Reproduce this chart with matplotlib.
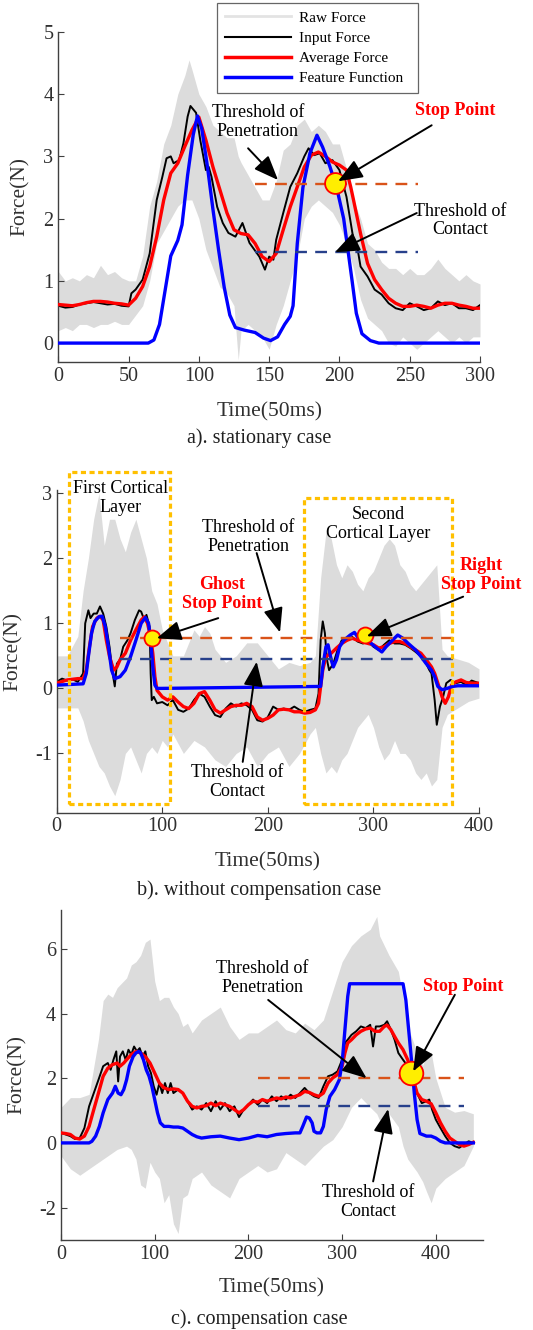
import matplotlib
matplotlib.use("Agg")
import matplotlib.pyplot as plt
from matplotlib.lines import Line2D
from matplotlib.patches import Rectangle

plt.rcParams['font.family'] = ['Liberation Serif', 'DejaVu Serif']
plt.rcParams['axes.unicode_minus'] = False

# ---------------- a). stationary case ----------------
a_raw_t = [0, 5, 10, 15, 20, 25, 30, 35, 40, 45, 50, 55, 60, 65, 70, 75, 80, 85, 90, 93,
           95, 100, 105, 110, 115, 120, 125, 128, 130, 135, 140, 145, 150, 155, 160, 165, 170, 175, 180, 185,
           190, 195, 200, 205, 210, 215, 220, 225, 230, 235, 240, 245, 250, 255, 260, 265, 270, 275, 280, 285,
           290, 295, 300]
a_raw_hi = [1.15, 1.0, 1.05, 1.0, 1.1, 1.05, 1.25, 1.1, 1.15, 1.05, 1.0, 1.0, 1.4, 2.2, 2.6, 3.2, 3.5, 4.0, 4.3, 4.55,
            4.4, 4.0, 3.8, 3.5, 3.4, 3.3, 3.3, 3.0, 2.9, 2.7, 2.5, 2.3, 2.3, 2.6, 3.1, 3.2, 3.5, 3.6, 3.4, 3.5,
            3.4, 3.2, 3.2, 2.8, 2.3, 2.0, 1.6, 1.5, 1.3, 1.2, 1.2, 1.1, 1.2, 1.1, 1.1, 1.2, 1.35, 1.2, 1.1, 1.0,
            1.1, 1.0, 0.95]
a_raw_lo = [0.2, 0.25, 0.2, 0.3, 0.3, 0.25, 0.3, 0.3, 0.35, 0.3, 0.3, 0.45, 0.6, 1.0, 1.6, 1.8, 2.0, 2.2, 2.3, 2.3,
            2.3, 2.0, 1.5, 1.2, 0.9, 0.8, 0.6, -0.27, 0.2, 0.3, 0.2, 0.1, -0.1, 0.3, 0.6, 1.0, 1.4, 2.0, 2.2, 2.3,
            2.2, 2.1, 1.9, 1.6, 1.2, 0.7, 0.4, 0.3, 0.2, 0.0, -0.05, 0.1, 0.0, -0.1, 0.0, 0.1, 0.2, 0.1, 0.0, 0.1,
            0.0, 0.1, 0.1]

a_in_t = [0, 5, 10, 15, 20, 25, 30, 35, 40, 45, 50, 52, 55, 60, 65, 70, 74, 77, 80, 82,
          86, 89, 92, 94, 98, 101, 105, 107, 109, 113, 117, 121, 126, 131, 136, 143, 147, 150, 153, 155,
          160, 165, 170, 175, 178, 182, 186, 190, 195, 200, 205, 210, 213, 215, 220, 225, 230, 235, 240, 245,
          250, 255, 260, 265, 270, 275, 280, 285, 290, 295, 300]
a_in = [0.6, 0.57, 0.58, 0.62, 0.64, 0.66, 0.64, 0.62, 0.63, 0.6, 0.59, 0.8, 0.86, 1.02, 1.44, 2.3, 2.67, 2.97, 3.0, 2.89,
        2.94, 3.21, 3.64, 3.81, 3.7, 3.26, 2.78, 2.83, 2.67, 2.19, 1.93, 1.77, 1.71, 1.93, 1.61, 1.39, 1.18, 1.39, 1.34, 1.66,
        2.09, 2.51, 2.73, 3.0, 3.13, 3.02, 3.05, 2.89, 2.94, 2.78, 2.35, 1.66, 1.5, 1.23, 1.07, 0.86, 0.78, 0.64, 0.56, 0.53,
        0.64, 0.59, 0.53, 0.56, 0.67, 0.61, 0.64, 0.56, 0.56, 0.53, 0.61]

a_avg_t = [0, 5, 10, 15, 20, 25, 30, 35, 40, 45, 50, 55, 60, 65, 70, 75, 80, 85, 90, 95,
           100, 105, 110, 115, 120, 125, 130, 135, 140, 145, 150, 155, 160, 165, 170, 175, 180, 185, 190, 195,
           200, 205, 208, 210, 215, 220, 225, 230, 235, 240, 245, 250, 255, 260, 265, 270, 275, 280, 285, 290,
           295, 300]
a_avg = [0.62, 0.61, 0.6, 0.62, 0.65, 0.67, 0.67, 0.66, 0.64, 0.63, 0.61, 0.72, 0.91, 1.23, 1.71, 2.3, 2.73, 2.89, 3.16, 3.42,
         3.63, 3.26, 2.83, 2.46, 2.09, 1.82, 1.76, 1.74, 1.6, 1.39, 1.31, 1.44, 1.82, 2.19, 2.51, 2.83, 3.02, 3.07, 3.0, 2.91,
         2.86, 2.78, 2.51, 2.3, 1.76, 1.28, 1.02, 0.86, 0.72, 0.64, 0.59, 0.59, 0.61, 0.59, 0.56, 0.61, 0.64, 0.64, 0.61, 0.59,
         0.56, 0.56]

a_feat_t = [0, 64, 68, 72, 76, 80, 85, 88, 92, 96, 99, 102, 106, 110, 114, 118, 122, 126, 132, 140,
            146, 151, 156, 161, 165, 167, 170, 174, 179, 184, 188, 193, 198, 203, 206, 209, 212, 216, 222, 228, 300]
a_feat = [0, 0, 0.05, 0.3, 0.85, 1.4, 1.65, 1.9, 2.7, 3.35, 3.65, 3.45, 2.85, 2.15, 1.5, 0.9, 0.45, 0.25, 0.21, 0.17,
          0.08, 0.04, 0.1, 0.3, 0.43, 0.6, 1.6, 2.5, 3.05, 3.34, 3.15, 2.85, 2.5, 2.0, 1.5, 1.0, 0.48, 0.15, 0.04, 0, 0]

a_thr_span = [140, 256]
a_thr_pen = 2.56
a_thr_con = 1.46
a_stop = (197, 2.58)

# ---------------- b). without compensation case ----------------
b_raw_t = [0, 10, 20, 25, 30, 35, 40, 45, 50, 55, 60, 65, 70, 75, 80, 85, 90, 95, 100, 105,
           110, 120, 130, 135, 140, 145, 150, 160, 170, 180, 190, 200, 210, 220, 230, 240, 245, 250, 255, 260,
           265, 270, 275, 280, 285, 290, 295, 300, 305, 310, 315, 320, 325, 330, 335, 340, 345, 350, 355, 360,
           365, 370, 380, 390, 400]
b_raw_hi = [0.5, 0.5, 0.8, 1.5, 2.0, 2.6, 3.0, 2.2, 2.6, 2.6, 2.3, 2.1, 2.4, 2.6, 2.3, 2.0, 1.5, 1.3, 0.9, 0.7,
            0.5, 0.5, 0.9, 0.8, 0.95, 0.85, 0.6, 0.4, 0.5, 0.7, 0.7, 0.5, 0.3, 0.4, 0.35, 0.4, 0.5, 1.7, 2.4, 2.3,
            1.9, 1.7, 1.9, 1.8, 1.6, 1.5, 1.7, 1.8, 2.0, 2.2, 2.3, 2.2, 1.9, 1.8, 1.6, 1.5, 1.6, 1.7, 1.8, 1.9,
            0.6, 0.5, 0.45, 0.4, 0.3]
b_raw_lo = [-0.3, -0.3, -0.3, -0.5, -0.8, -1.0, -1.2, -1.3, -1.5, -1.65, -1.4, -1.0, -0.9, -1.1, -1.3, -1.0, -0.9, -1.0, -0.8, -0.9,
            -0.7, -1.0, -0.8, -0.85, -0.9, -1.0, -1.1, -1.2, -1.0, -0.9, -1.2, -1.0, -0.9, -1.2, -1.0, -0.7, -0.6, -1.0, -1.3, -1.2,
            -1.3, -1.1, -1.0, -0.8, -0.6, -0.5, -0.4, -0.6, -0.9, -1.1, -1.0, -0.8, -1.0, -1.0, -1.1, -1.3, -1.4, -1.3, -1.5, -1.4,
            -0.6, -0.4, -0.3, -0.2, -0.15]

b_in_t = [0, 5, 10, 15, 20, 22, 25, 27, 30, 32, 35, 38, 41, 44, 47, 50, 53, 55, 57, 60,
          63, 67, 70, 74, 78, 80, 83, 85, 88, 89, 90, 92, 95, 100, 105, 110, 115, 120, 125, 130,
          135, 140, 145, 150, 155, 160, 165, 170, 175, 180, 185, 190, 195, 200, 205, 210, 215, 220, 225, 230,
          235, 240, 245, 248, 250, 252, 254, 256, 258, 262, 266, 270, 275, 280, 285, 290, 295, 300, 305, 310,
          315, 320, 325, 330, 335, 340, 345, 350, 353, 355, 358, 360, 363, 366, 369, 373, 378, 383, 388, 393, 400]
b_in = [0.1, 0.15, 0.12, 0.14, 0.1, 0.15, 0.23, 1.0, 1.2, 1.08, 1.15, 1.15, 1.26, 1.15, 0.95, 0.64, 0.23, 0.03, 0.38, 0.44,
        0.64, 0.74, 0.85, 1.05, 1.2, 1.18, 1.05, 1.13, 0.95, 0.23, -0.18, -0.13, -0.23, -0.21, -0.26, -0.18, -0.33, -0.36, -0.31, -0.18,
        -0.08, -0.13, -0.28, -0.41, -0.44, -0.31, -0.23, -0.28, -0.23, -0.26, -0.33, -0.49, -0.51, -0.44, -0.28, -0.33, -0.31, -0.33, -0.28, -0.33,
        -0.36, -0.33, -0.31, -0.08, 0.74, 1.03, 0.85, 0.44, 0.28, 0.38, 0.59, 0.74, 0.74, 0.79, 0.72, 0.69, 0.72, 0.64, 0.59, 0.67,
        0.74, 0.69, 0.69, 0.67, 0.62, 0.56, 0.49, 0.38, 0.28, 0.23, -0.18, -0.56, -0.28, -0.13, 0.08, 0.13, 0.08, 0.1, 0.05, 0.12, 0.08]

b_avg_t = [0, 10, 20, 25, 28, 31, 34, 38, 41, 44, 47, 50, 54, 57, 60, 65, 70, 75, 80, 83,
           86, 89, 91, 93, 95, 100, 105, 110, 115, 120, 125, 130, 135, 140, 145, 150, 155, 160, 165, 170,
           175, 180, 185, 190, 195, 200, 205, 210, 215, 220, 225, 230, 235, 240, 245, 248, 250, 252, 255, 260,
           265, 270, 275, 280, 285, 290, 295, 300, 305, 310, 315, 320, 325, 330, 335, 340, 345, 350, 355, 358,
           362, 365, 368, 371, 374, 378, 383, 388, 393, 400]
b_avg = [0.08, 0.13, 0.15, 0.15, 0.28, 0.64, 0.95, 1.08, 1.11, 1.05, 0.74, 0.49, 0.28, 0.33, 0.44, 0.54, 0.74, 0.9, 1.05, 1.10,
         1.0, 0.79, 0.54, 0.18, -0.03, -0.13, -0.18, -0.13, -0.21, -0.28, -0.31, -0.23, -0.08, -0.05, -0.18, -0.33, -0.38, -0.33, -0.28, -0.26,
         -0.26, -0.23, -0.28, -0.44, -0.49, -0.46, -0.41, -0.33, -0.32, -0.33, -0.36, -0.36, -0.38, -0.37, -0.33, -0.23, 0.03, 0.28, 0.49, 0.54,
         0.62, 0.69, 0.74, 0.77, 0.74, 0.72, 0.69, 0.67, 0.62, 0.64, 0.69, 0.72, 0.72, 0.69, 0.64, 0.59, 0.54, 0.44, 0.33, 0.23,
         0.03, -0.13, -0.23, -0.13, 0.05, 0.10, 0.13, 0.09, 0.08, 0.08]

b_feat_t = [0, 25, 28, 30, 33, 36, 40, 43, 46, 49, 52, 55, 60, 65, 70, 75, 80, 84, 87, 89,
            91, 93, 95, 100, 250, 252, 255, 257, 260, 262, 265, 268, 272, 278, 282, 285, 288, 292, 298, 303,
            308, 312, 318, 323, 328, 333, 340, 345, 350, 355, 358, 361, 365, 370, 375, 380, 400]
b_feat = [0.05, 0.07, 0.23, 0.49, 0.85, 1.03, 1.10, 1.11, 0.95, 0.64, 0.28, 0.15, 0.18, 0.28, 0.49, 0.74, 1.0, 1.09, 1.0, 0.74,
          0.33, 0.05, 0.0, 0.0, 0.03, 0.33, 0.64, 0.67, 0.44, 0.33, 0.44, 0.64, 0.74, 0.82, 0.86, 0.79, 0.85, 0.79, 0.69, 0.62,
          0.56, 0.64, 0.74, 0.82, 0.77, 0.69, 0.59, 0.49, 0.38, 0.28, 0.18, 0.03, -0.02, 0.0, 0.03, 0.04, 0.04]

b_thr_span = [60, 380]
b_thr_pen = 0.78
b_thr_con = 0.45
b_ghost = (90, 0.77)
b_right = (292, 0.82)
b_layer1 = (11.6, 107.3, -1.78, 3.32)
b_layer2 = (234.5, 374.0, -1.78, 2.92)

# ---------------- c). compensation case ----------------
c_raw_t = [0, 10, 20, 30, 40, 45, 50, 55, 60, 70, 75, 80, 85, 90, 95, 100, 105, 110, 115, 120,
           125, 130, 135, 140, 150, 160, 170, 180, 190, 200, 210, 220, 230, 240, 250, 260, 270, 280, 290, 300,
           310, 320, 330, 337, 340, 350, 360, 365, 370, 380, 386, 390, 395, 400, 410, 420, 430, 440]
c_raw_hi = [1.1, 1.4, 1.4, 1.5, 3.2, 4.4, 4.6, 4.5, 4.8, 5.1, 5.5, 5.6, 5.8, 6.2, 6.3, 5.0, 4.4, 4.5, 4.5, 4.2,
            4.0, 3.6, 3.7, 3.4, 3.8, 4.0, 4.2, 3.6, 3.2, 3.4, 3.4, 3.6, 3.8, 3.5, 3.4, 3.7, 3.5, 3.8, 4.7, 5.6,
            6.1, 6.4, 6.6, 7.0, 6.4, 5.8, 5.3, 4.5, 3.6, 2.8, 2.4, 2.7, 2.8, 2.0, 1.1, 0.95, 1.0, 0.9]
c_raw_lo = [-0.4, -0.8, -1.0, -0.8, -0.6, -0.5, -0.4, -0.3, -0.2, -0.1, -0.2, -0.5, -1.3, -1.4, -0.6, -0.9, -1.1, -1.85, -1.6, -2.5,
            -2.8, -1.7, -1.6, -1.1, -0.9, -1.3, -1.5, -1.7, -1.1, -0.9, -0.7, -0.9, -0.8, -0.3, -0.5, -0.7, -0.4, -0.1, 0.1, 0.5,
            1.1, 1.4, 1.1, 0.9, 0.7, 0.9, 0.5, -0.1, -0.5, -0.9, -1.2, -1.5, -1.85, -1.4, -1.1, -0.9, -0.7, -0.1]

c_in_t = [0, 5, 10, 15, 20, 25, 30, 35, 40, 45, 50, 53, 56, 59, 61, 63, 66, 69, 72, 75,
          78, 81, 84, 87, 90, 93, 96, 99, 102, 105, 108, 111, 114, 117, 120, 125, 130, 135, 140, 145,
          150, 155, 160, 165, 170, 175, 180, 185, 190, 195, 200, 205, 210, 215, 220, 225, 230, 235, 240, 245,
          250, 255, 260, 265, 270, 275, 280, 285, 290, 295, 300, 303, 306, 310, 315, 320, 325, 330, 333, 336,
          340, 345, 348, 352, 356, 360, 365, 370, 375, 380, 385, 390, 393, 396, 400, 405, 410, 415, 420, 425,
          430, 435, 440]
c_in = [0.31, 0.26, 0.21, 0.12, 0.15, 0.46, 1.13, 1.54, 1.95, 2.37, 2.47, 2.26, 2.57, 2.83, 1.9, 2.67, 2.83, 2.57, 2.88, 2.73,
        2.98, 2.83, 2.93, 2.67, 2.83, 2.37, 2.16, 1.75, 1.49, 1.85, 1.54, 1.85, 1.54, 1.85, 1.54, 1.65, 1.54, 1.29, 1.03, 1.13,
        1.03, 1.23, 0.98, 1.29, 1.03, 1.23, 0.98, 1.13, 0.8, 1.03, 1.18, 1.34, 1.18, 1.34, 1.23, 1.44, 1.29, 1.44, 1.34, 1.49,
        1.39, 1.54, 1.7, 1.54, 1.44, 1.39, 1.75, 2.06, 2.11, 2.21, 2.57, 3.09, 3.19, 3.34, 3.45, 3.6, 3.55, 3.65, 2.98, 3.6,
        3.6, 3.65, 3.76, 3.5, 3.19, 2.78, 2.57, 2.37, 2.06, 1.54, 1.23, 1.29, 1.34, 1.03, 0.72, 0.46, 0.21, 0.0, -0.1, -0.15,
        -0.05, 0.05, 0.0]

c_avg_t = [0, 5, 10, 15, 20, 25, 30, 35, 40, 45, 50, 55, 60, 63, 67, 70, 75, 80, 85, 90,
           95, 100, 105, 110, 115, 120, 125, 130, 135, 140, 145, 150, 155, 160, 165, 170, 175, 180, 185, 190,
           195, 200, 205, 210, 215, 220, 225, 230, 235, 240, 245, 250, 255, 260, 265, 270, 275, 280, 285, 290,
           295, 300, 303, 306, 310, 315, 320, 325, 330, 335, 340, 345, 348, 352, 356, 360, 365, 370, 375, 378,
           380, 385, 390, 395, 400, 405, 410, 415, 420, 425, 430, 435, 440]
c_avg = [0.31, 0.29, 0.26, 0.15, 0.12, 0.21, 0.51, 1.03, 1.54, 2.06, 2.31, 2.42, 2.47, 2.37, 2.47, 2.57, 2.73, 2.83, 2.78, 2.67,
         2.47, 2.16, 1.85, 1.7, 1.65, 1.67, 1.65, 1.54, 1.29, 1.13, 1.08, 1.13, 1.15, 1.23, 1.15, 1.23, 1.18, 1.13, 1.03, 0.93,
         1.03, 1.18, 1.29, 1.26, 1.34, 1.29, 1.34, 1.39, 1.36, 1.42, 1.39, 1.44, 1.49, 1.59, 1.56, 1.49, 1.44, 1.54, 1.85, 2.01,
         2.11, 2.37, 2.78, 3.09, 3.19, 3.34, 3.45, 3.52, 3.55, 3.45, 3.45, 3.6, 3.64, 3.5, 3.29, 3.09, 2.88, 2.57, 2.11, 1.75,
         1.54, 1.34, 1.29, 1.21, 0.93, 0.62, 0.36, 0.15, 0.05, -0.05, -0.1, -0.05, 0.02]

c_feat_t = [0, 30, 33, 37, 41, 45, 50, 55, 58, 61, 64, 67, 70, 73, 77, 80, 83, 85, 88, 91,
            94, 97, 100, 103, 106, 110, 115, 120, 125, 130, 135, 140, 145, 150, 160, 170, 180, 190, 200, 210,
            220, 230, 240, 250, 255, 258, 262, 265, 268, 270, 273, 277, 280, 283, 287, 292, 297, 300, 303, 306,
            308, 365, 368, 371, 374, 377, 380, 383, 390, 395, 400, 405, 410, 440]
c_feat = [0, 0, 0.05, 0.21, 0.51, 0.93, 1.34, 1.54, 1.75, 1.54, 1.49, 1.65, 1.95, 2.37, 2.67, 2.78, 2.83, 2.78, 2.57, 2.26,
          2.06, 1.75, 1.34, 0.93, 0.62, 0.51, 0.51, 0.49, 0.49, 0.46, 0.36, 0.26, 0.19, 0.15, 0.19, 0.21, 0.15, 0.1, 0.15, 0.23,
          0.19, 0.26, 0.29, 0.31, 0.31, 0.51, 0.8, 0.77, 0.62, 0.36, 0.31, 0.31, 0.51, 1.03, 1.44, 1.65, 1.95, 2.47, 3.5, 4.53,
          4.92, 4.92, 4.42, 3.5, 2.57, 1.54, 0.72, 0.29, 0.21, 0.21, 0.15, 0.05, 0, 0]

c_thr_span = [210, 430]
c_thr_pen = 2.0
c_thr_con = 1.15
c_stop = (373, 2.16)

GREY = '#dcdcdc'
RED = '#ff0000'
BLUE = '#0000ff'
ORANGE = '#d95319'
NAVY = '#27408b'
GOLD = '#ffc000'
TXT = 13


def base(ax, xlim, ylim, xticks, yticks, ylab_x, xlab_y):
    ax.set_xlim(xlim)
    ax.set_ylim(ylim)
    ax.set_xticks(xticks)
    ax.set_yticks(yticks)
    for s in ['top', 'right']:
        ax.spines[s].set_visible(False)
    for s in ['left', 'bottom']:
        ax.spines[s].set_color('#404040')
        ax.spines[s].set_linewidth(1.0)
    ax.tick_params(direction='in', length=4, width=0.8, colors='#404040',
                   labelcolor='#303030', labelsize=14.5)
    ax.set_ylabel('Force(N)', fontsize=15.5, color='#303030', va='center')
    ax.yaxis.set_label_coords(ylab_x, 0.5)
    ax.set_xlabel('Time(50ms)', fontsize=15.5, color='#303030', va='center')
    ax.xaxis.set_label_coords(0.5, xlab_y)


def curves(ax, rt, rlo, rhi, it, iv, at, av, ft, fv, span, pen, con):
    ax.fill_between(rt, rlo, rhi, color=GREY, lw=0, zorder=1)
    ax.plot(it, iv, color='k', lw=1.4, zorder=2)
    ax.plot(at, av, color=RED, lw=2.4, zorder=3)
    ax.plot(ft, fv, color=BLUE, lw=2.4, zorder=4)
    ax.plot(span, [pen, pen], color=ORANGE, lw=1.7, ls=(0, (5, 3.5)), zorder=5)
    ax.plot(span, [con, con], color=NAVY, lw=1.7, ls=(0, (5, 3.5)), zorder=5)


def dot(ax, p, size):
    ax.plot([p[0]], [p[1]], 'o', ms=size, mfc='#ffee00', mec=RED, mew=1.3, zorder=8, clip_on=False)


def arrow(ax, tail, tip):
    ax.annotate('', xy=tip, xytext=tail, annotation_clip=False, zorder=9,
                arrowprops=dict(arrowstyle='-|>,head_length=0.75,head_width=0.3', mutation_scale=20,
                                lw=1.4, color='k', shrinkA=0, shrinkB=0))


def label(ax, x, y, s, red=False):
    ax.text(x, y, s, ha='center', va='center', fontsize=TXT, clip_on=False, zorder=10,
            color=RED if red else 'k', fontweight='bold' if red else 'normal', linespacing=1.15)


fig = plt.figure(figsize=(5.33, 13.3), dpi=100)

# panel a
ax = fig.add_axes([0.1094, 0.728, 0.7912, 0.248])
base(ax, (0, 300), (-0.3, 5), range(0, 301, 50), range(0, 6), -0.089, -0.1515)
curves(ax, a_raw_t, a_raw_lo, a_raw_hi, a_in_t, a_in, a_avg_t, a_avg, a_feat_t, a_feat,
       a_thr_span, a_thr_pen, a_thr_con)
dot(ax, a_stop, 15)
label(ax, 142, 3.55, 'Threshold of\nPenetration')
label(ax, 285.7, 1.97, 'Threshold of\nContact')
label(ax, 282, 3.74, 'Stop Point', red=True)
arrow(ax, (135, 3.13), (156.3, 2.62))
arrow(ax, (265.6, 3.5), (199, 2.6))
arrow(ax, (255, 2.09), (196.8, 1.46))

handles = [Line2D([], [], color='#e3e3e3', lw=2),
           Line2D([], [], color='k', lw=1.5),
           Line2D([], [], color=RED, lw=2.5),
           Line2D([], [], color=BLUE, lw=2.5)]
leg = fig.legend(handles, ['Raw Force', 'Input Force', 'Average Force', 'Feature Function'],
                 loc='upper left', bbox_to_anchor=(0.4065, 0.931, 0.3785, 0.067), mode='expand',
                 fontsize=11, frameon=True, fancybox=False, edgecolor='#404040',
                 handlelength=4.3, handletextpad=0.55, labelspacing=0.42, borderpad=0.55,
                 borderaxespad=0)
leg.get_frame().set_linewidth(0.9)

# panel b
ax = fig.add_axes([0.1064, 0.389, 0.7923, 0.2426])
base(ax, (0, 400), (-1.91, 3.05), range(0, 401, 100), range(-1, 4), -0.103, -0.152)
curves(ax, b_raw_t, b_raw_lo, b_raw_hi, b_in_t, b_in, b_avg_t, b_avg, b_feat_t, b_feat,
       b_thr_span, b_thr_pen, b_thr_con)
for x0, x1, y0, y1 in [b_layer1, b_layer2]:
    ax.add_patch(Rectangle((x0, y0), x1 - x0, y1 - y0, fill=False, ec=GOLD, lw=2.3,
                           ls=(0, (1.6, 1.1)), clip_on=False, zorder=6))
dot(ax, b_ghost, 11.5)
dot(ax, b_right, 11.5)
label(ax, 60.6, 2.92, 'First Cortical\nLayer')
label(ax, 304.6, 2.52, 'Second\nCortical Layer')
label(ax, 181.5, 2.32, 'Threshold of\nPenetration')
label(ax, 171, -1.44, 'Threshold of\nContact')
label(ax, 156.3, 1.45, 'Ghost\nStop Point', red=True)
label(ax, 402.5, 1.74, 'Right\nStop Point', red=True)
arrow(ax, (189.4, 2.08), (211.5, 0.86))
arrow(ax, (176.2, -1.13), (189.4, 0.41))
arrow(ax, (153, 1.08), (94.7, 0.77))
arrow(ax, (385, 1.41), (293.6, 0.80))

# panel c
ax = fig.add_axes([0.1144, 0.0677, 0.7912, 0.2481])
base(ax, (0, 450), (-3, 7.2), range(0, 401, 100), range(-2, 7, 2), -0.104, -0.145)
curves(ax, c_raw_t, c_raw_lo, c_raw_hi, c_in_t, c_in, c_avg_t, c_avg, c_feat_t, c_feat,
       c_thr_span, c_thr_pen, c_thr_con)
dot(ax, c_stop, 17)
label(ax, 214.7, 5.09, 'Threshold of\nPenetration')
label(ax, 327.8, -1.84, 'Threshold of\nContact')
label(ax, 429, 4.83, 'Stop Point', red=True)
arrow(ax, (221.1, 4.42), (326.1, 2.0))
arrow(ax, (333.1, -1.19), (349.1, 1.05))
arrow(ax, (420.3, 4.58), (375.8, 2.21))

for y, s in [(0.6707, 'a). stationary case'), (0.3308, 'b). without compensation case'),
             (0.0083, 'c). compensation case')]:
    fig.text(0.486, y, s, ha='center', va='center', fontsize=14.5, color='#202020')

fig.savefig('out.png', dpi=100, facecolor='white')
